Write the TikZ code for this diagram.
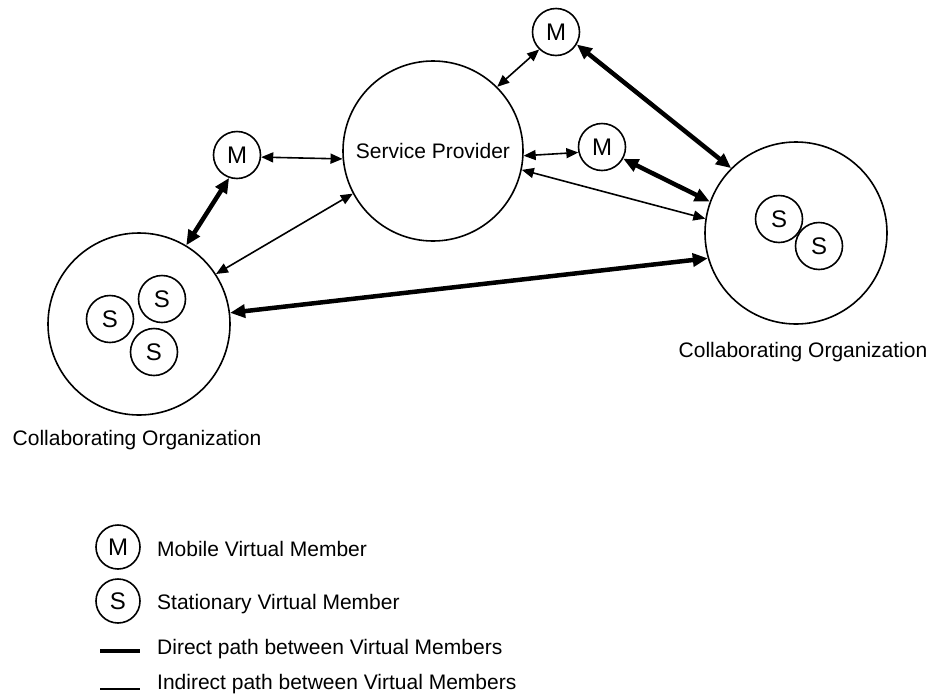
\documentclass[tikz,border=0pt]{standalone}
\usepackage{fontspec}
\setmainfont{Liberation Sans}
\usetikzlibrary{arrows.meta}
\begin{document}
\begin{tikzpicture}[x=1pt,y=-1pt,
  ring/.style={draw, circle, line width=1.6pt, inner sep=0pt},
  member/.style={ring, minimum size=47pt, font=\fontsize{24}{28}\selectfont},
  org/.style={ring, minimum size=182pt},
  lbl/.style={inner sep=0pt, font=\fontsize{21}{25}\selectfont},
  indirect/.style={line width=1.6pt, {Triangle[length=12pt,width=10pt]}-{Triangle[length=12pt,width=10pt]}},
  direct/.style={line width=4.5pt, {Triangle[length=15pt,width=13pt]}-{Triangle[length=15pt,width=13pt]}},
]
\useasboundingbox (0,0) rectangle (934,694);

% main nodes
\node[ring, minimum size=180pt, lbl] (sp) at (433,151) {Service Provider};
\node[member] (m1) at (237,155) {M};
\node[member] (m2) at (556,32) {M};
\node[member] (m3) at (602,147) {M};
\node[org] (lo) at (139,324) {};
\node[org] (ro) at (796,233) {};
\node[member] (s1) at (110,319) {S};
\node[member] (s2) at (162,299) {S};
\node[member] (s3) at (154,352) {S};
\node[member] (s4) at (779,219) {S};
\node[member] (s5) at (819,246) {S};
\node[lbl] (lol) at (137,440) {Collaborating Organization};
\node[lbl] (rol) at (803,352) {Collaborating Organization};

% connectors
\draw[indirect] (m1.355) -- (sp.185);
\draw[direct] (m1.251) -- (lo.59);
\draw[indirect] (sp.208) -- (lo.33);
\draw[indirect] (m2.226) -- (sp.45);
\draw[direct] (m2.329) -- (ro.135);
\draw[indirect] (sp.357) -- (m3.193);
\draw[direct] (m3.331) -- (ro.160);
\draw[indirect] (sp.348) -- (ro.171);
\draw[direct] (lo.7) -- (ro.196);

% legend
\node[member, minimum size=44pt] (lm) at (118,547) {M};
\node[lbl, anchor=west] (lmt) at (157,549) {Mobile Virtual Member};
\node[member, minimum size=44pt] (ls) at (118,601) {S};
\node[lbl, anchor=west] (lst) at (157,604) {Stationary Virtual Member};
\coordinate (d1) at (100,651);
\coordinate (d2) at (140,651);
\draw[line width=4.5pt] (d1) -- (d2);
\node[lbl, anchor=west] (ldt) at (157,649) {Direct path between Virtual Members};
\coordinate (i1) at (100,689);
\coordinate (i2) at (140,689);
\draw[line width=1.6pt] (i1) -- (i2);
\node[lbl, anchor=west] (lit) at (157,684) {Indirect path between Virtual Members};
\end{tikzpicture}
\end{document}
